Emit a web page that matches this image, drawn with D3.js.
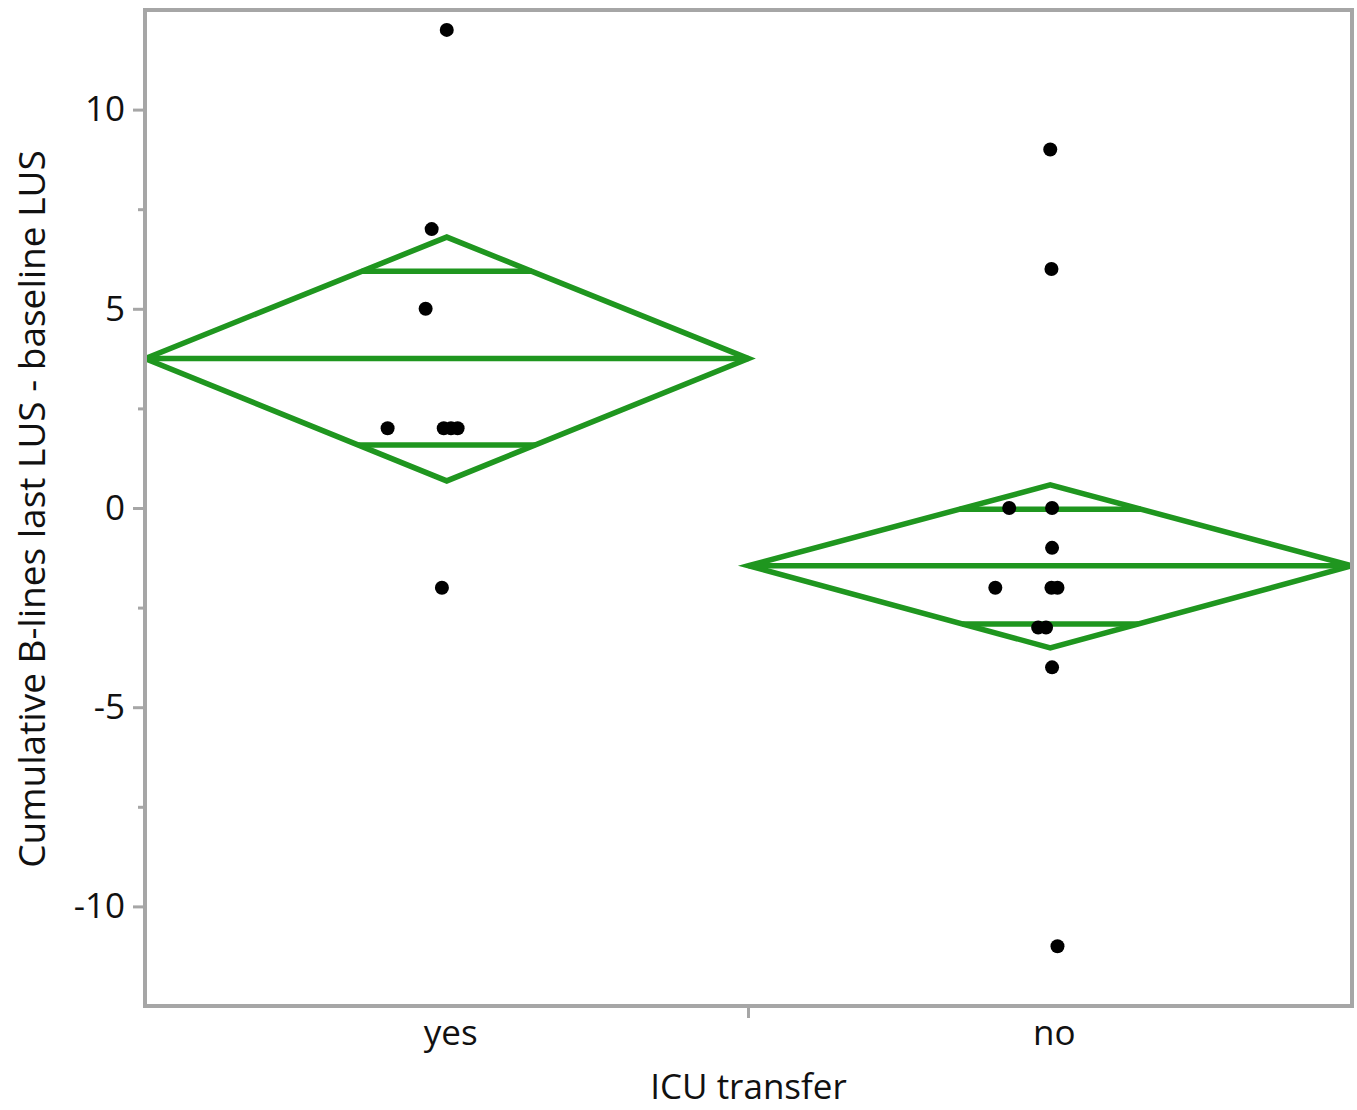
<!DOCTYPE html>
<html>
<head>
<meta charset="utf-8">
<script src="https://cdn.jsdelivr.net/npm/d3@7"></script>
<style>
  body { margin: 0; background: #fff; }
  svg text { font-family: "Open Sans", "Noto Sans", sans-serif; fill: #111; }
</style>
</head>
<body>
<div id="chart"></div>
<script>
// groups on the x axis
const categories = ['yes', 'no'];

// observed values per group, with the horizontal jitter (fraction of band width)
const yesValues = [12, 7, 5, 2, 2, 2, 2, -2];
const yesJitter = [0, -0.025, -0.035, -0.098, -0.005, 0.007, 0.018, -0.008];
const noValues = [9, 6, 0, 0, -1, -2, -2, -2, -3, -3, -4, -11];
const noJitter = [0, 0.002, -0.068, 0.003, 0.003, -0.091, 0.002, 0.012, -0.02, -0.007, 0.003, 0.012];

// means diamonds: mean, 95% CI and overlap marks
const means = [3.75, -1.45];
const ciLow = [0.68, -3.51];
const ciHigh = [6.8, 0.58];
const overlapLow = [1.58, -2.91];
const overlapHigh = [5.94, -0.03];

const yTicks = [-10, -5, 0, 5, 10];
const yMinorTicks = [-7.5, -2.5, 2.5, 7.5];

const W = 1357, H = 1110;
const mLeft = 145, mRight = 1352, mTop = 10, mBottom = 1006;
const green = '#1f961f';
const grey = '#a6a6a6';

const svg = d3.select('#chart').append('svg')
  .attr('width', W)
  .attr('height', H);

const x = d3.scaleBand()
  .domain(categories)
  .range([mLeft, mRight]);

const y = d3.scaleLinear()
  .domain([-12.5, 12.5])
  .range([mBottom, mTop]);

svg.append('clipPath').attr('id', 'plot-clip')
  .append('rect')
  .attr('x', mLeft).attr('y', mTop)
  .attr('width', mRight - mLeft).attr('height', mBottom - mTop);

// diamonds
const groups = categories.map((c, i) => ({
  cat: c, mean: means[i], lo: ciLow[i], hi: ciHigh[i],
  olo: overlapLow[i], ohi: overlapHigh[i]
}));

const g = svg.append('g').attr('clip-path', 'url(#plot-clip)');

groups.forEach(d => {
  const x0 = x(d.cat), x1 = x0 + x.bandwidth(), xc = x0 + x.bandwidth() / 2;
  const half = x.bandwidth() / 2;
  g.append('path')
    .attr('d', `M${x0},${y(d.mean)} L${xc},${y(d.hi)} L${x1},${y(d.mean)} L${xc},${y(d.lo)} Z`)
    .attr('fill', 'none')
    .attr('stroke', green)
    .attr('stroke-width', 5.5)
    .attr('stroke-linejoin', 'miter');

  // mean line
  g.append('line')
    .attr('x1', x0).attr('x2', x1)
    .attr('y1', y(d.mean)).attr('y2', y(d.mean))
    .attr('stroke', green).attr('stroke-width', 5.5);

  // overlap marks, running to the diamond edges
  [[d.olo, d.lo], [d.ohi, d.hi]].forEach(([v, edge]) => {
    const w = half * (1 - Math.abs(v - d.mean) / Math.abs(edge - d.mean));
    g.append('line')
      .attr('x1', xc - w).attr('x2', xc + w)
      .attr('y1', y(v)).attr('y2', y(v))
      .attr('stroke', green).attr('stroke-width', 5.5);
  });
});

// points
const points = [];
yesValues.forEach((v, i) => points.push({ cat: 'yes', v: v, j: yesJitter[i] }));
noValues.forEach((v, i) => points.push({ cat: 'no', v: v, j: noJitter[i] }));

svg.append('g').selectAll('circle')
  .data(points)
  .enter()
  .append('circle')
  .attr('cx', d => x(d.cat) + x.bandwidth() / 2 + d.j * x.bandwidth())
  .attr('cy', d => y(d.v))
  .attr('r', 7)
  .attr('fill', '#000');

// frame
svg.append('rect')
  .attr('x', mLeft).attr('y', mTop)
  .attr('width', mRight - mLeft).attr('height', mBottom - mTop)
  .attr('fill', 'none')
  .attr('stroke', grey)
  .attr('stroke-width', 4);

// y axis
const yAxis = svg.append('g')
  .attr('transform', `translate(${mLeft},0)`)
  .call(d3.axisLeft(y).tickValues(yTicks).tickSize(12).tickPadding(8).tickFormat(d => String(d)));
yAxis.select('.domain').remove();
yAxis.selectAll('line').attr('stroke', grey).attr('stroke-width', 3);
yAxis.selectAll('text')
  .style('font-size', '35px')
  .attr('fill', '#111');

const yMinor = svg.append('g')
  .attr('transform', `translate(${mLeft},0)`)
  .call(d3.axisLeft(y).tickValues(yMinorTicks).tickSize(7).tickFormat(''));
yMinor.select('.domain').remove();
yMinor.selectAll('line').attr('stroke', grey).attr('stroke-width', 3);

// x axis
const xAxis = svg.append('g')
  .attr('transform', `translate(0,${mBottom})`)
  .call(d3.axisBottom(x).tickSize(0).tickPadding(14));
xAxis.select('.domain').remove();
xAxis.selectAll('text')
  .style('font-size', '35px')
  .attr('fill', '#111')
  .attr('dx', 4);

// divider tick between the groups
svg.append('line')
  .attr('x1', x('no')).attr('x2', x('no'))
  .attr('y1', mBottom).attr('y2', mBottom + 12)
  .attr('stroke', grey).attr('stroke-width', 3);

// axis titles
svg.append('text')
  .attr('x', (mLeft + mRight) / 2)
  .attr('y', 1099)
  .attr('text-anchor', 'middle')
  .style('font-size', '35px')
  .text('ICU transfer');

svg.append('text')
  .attr('transform', 'rotate(-90)')
  .attr('x', -(mTop + mBottom) / 2 - 1)
  .attr('y', 45)
  .attr('text-anchor', 'middle')
  .style('font-size', '37px')
  .text('Cumulative B-lines last LUS - baseline LUS');
</script>
</body>
</html>
